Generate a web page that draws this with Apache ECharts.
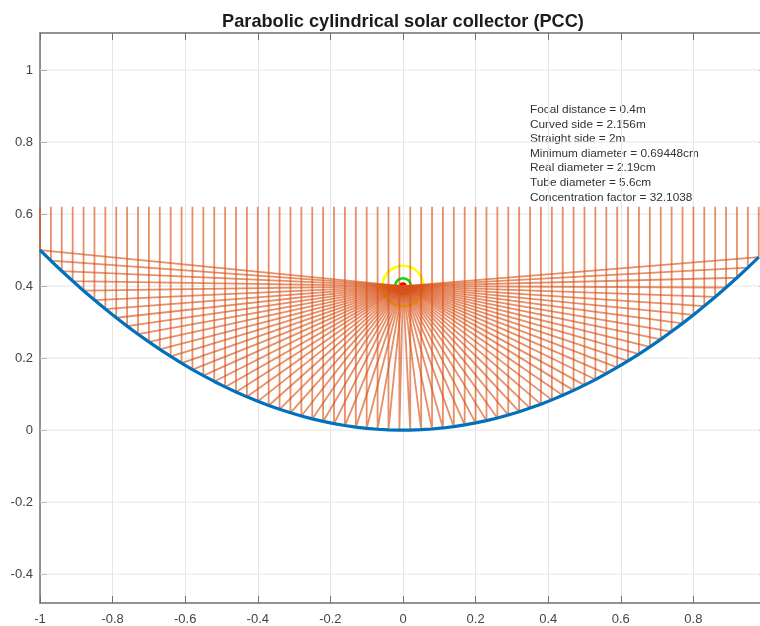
<!DOCTYPE html>
<html>
<head>
<meta charset="utf-8">
<style>html,body{margin:0;padding:0;background:#fff;overflow:hidden}#c{width:760px;height:626px}</style>
<script src="https://cdn.jsdelivr.net/npm/echarts@6/dist/echarts.min.js"></script>
</head>
<body>
<div id="c"></div>
<script>
const titleText = 'Parabolic cylindrical solar collector (PCC)';
const infoLines = [
  'Focal distance = 0.4m',
  'Curved side = 2.156m',
  'Straight side = 2m',
  'Minimum diameter = 0.69448cm',
  'Real diameter = 2.19cm',
  'Tube diameter = 5.6cm',
  'Concentration factor = 32.1038'
];
const yTicks = [-0.4, -0.2, 0, 0.2, 0.4, 0.6, 0.8, 1];
const rayX = [-1,-0.97,-0.94,-0.91,-0.88,-0.85,-0.82,-0.79,-0.76,-0.73,-0.70,-0.67,-0.64,-0.61,-0.58,-0.55,-0.52,-0.49,-0.46,-0.43,-0.40,-0.37,-0.34,-0.31,-0.28,-0.25,-0.22,-0.19,-0.16,-0.13,-0.10,-0.07,-0.04,-0.01,
  0.02,0.05,0.08,0.11,0.14,0.17,0.20,0.23,0.26,0.29,0.32,0.35,0.38,0.41,0.44,0.47,0.50,0.53,0.56,0.59,0.62,0.65,0.68,0.71,0.74,0.77,0.80,0.83,0.86,0.89,0.92,0.95,0.98];
const surfaceY = [0.5,0.47045,0.4418,0.41405,0.3872,0.36125,0.3362,0.31205,0.2888,0.26645,0.245,0.22445,0.2048,0.18605,0.1682,0.15125,0.1352,0.12005,0.1058,0.09245,0.08,0.06845,0.0578,0.04805,0.0392,0.03125,0.0242,0.01805,0.0128,0.00845,0.005,0.00245,0.0008,0.00005,
  0.0002,0.00125,0.0032,0.00605,0.0098,0.01445,0.02,0.02645,0.0338,0.04205,0.0512,0.06125,0.0722,0.08405,0.0968,0.11045,0.125,0.14045,0.1568,0.17405,0.1922,0.21125,0.2312,0.25205,0.2738,0.29645,0.32,0.34445,0.3698,0.39605,0.4232,0.45125,0.4802];
const rayTop = 0.62;
const focus = [0, 0.4];
const circleRadii = [0.056, 0.0219, 0.00694];
const circleColors = ['#FFFF00', '#00E000', '#FF0000'];

const xMin = -1, xMax = 1, xStep = 0.2;
const yMin = -0.48, yMax = 1.1028;

const font = '"Liberation Sans", Arial, sans-serif';
const axisCol = '#707070';
const gridCol = '#e6e6e6';

const series = [];
yTicks.forEach(function (v) {
  series.push({
    type: 'line', silent: true, animation: false, showSymbol: false, symbol: 'none',
    lineStyle: { color: gridCol, width: 1 },
    data: [[xMin, v], [xMax, v]]
  });
});
circleRadii.forEach(function (r, k) {
  series.push({
    type: 'custom',
    coordinateSystem: 'cartesian2d',
    silent: true,
    animation: false,
    clip: true,
    data: [[focus[0], focus[1], r]],
    renderItem: function (params, api) {
      const c = api.coord([api.value(0), api.value(1)]);
      const s = api.size([api.value(2), api.value(2)]);
      return {
        type: 'circle',
        shape: { cx: c[0], cy: c[1], r: s[0] },
        style: { fill: k === 2 ? circleColors[k] : 'none', stroke: circleColors[k], lineWidth: 2.5 }
      };
    }
  });
});
rayX.forEach(function (x, i) {
  series.push({
    type: 'line',
    silent: true,
    animation: false,
    showSymbol: false,
    symbol: 'none',
    lineStyle: { color: '#D95319', width: 1.8, opacity: 0.65 },
    data: [[x, rayTop], [x, surfaceY[i]], focus]
  });
});
series.push({
  type: 'line',
  silent: true,
  animation: false,
  showSymbol: false,
  symbol: 'none',
  smooth: false,
  lineStyle: { color: '#0072BD', width: 3.2 },
  data: rayX.map(function (x, i) { return [x, surfaceY[i]]; })
});

function fmt(v) { return String(Math.round(v * 10) / 10); }

const chart = echarts.init(document.getElementById('c'), null, { renderer: 'canvas' });
chart.setOption({
  backgroundColor: '#fff',
  animation: false,
  title: {
    text: titleText, left: 398, top: 8, textAlign: 'center',
    textStyle: { fontFamily: font, fontSize: 18.2, fontWeight: 'bold', color: '#1c1c1c' }
  },
  grid: { left: 40, width: 726, top: 33, height: 570, containLabel: false, outerBoundsMode: 'none' },
  xAxis: [{
    type: 'value', min: xMin, max: xMax, interval: xStep, position: 'bottom',
    axisLine: { show: true, onZero: false, lineStyle: { color: axisCol, width: 1.5 } },
    axisTick: { show: true, inside: true, length: 7, lineStyle: { color: axisCol } },
    axisLabel: { color: '#444', fontFamily: font, fontSize: 13, margin: 10, formatter: fmt, showMaxLabel: false },
    splitLine: { show: true, lineStyle: { color: gridCol, width: 1 } }
  }, {
    type: 'value', min: xMin, max: xMax, interval: xStep, position: 'top',
    axisLine: { show: true, onZero: false, lineStyle: { color: axisCol, width: 1.5 } },
    axisTick: { show: true, inside: true, length: 7, lineStyle: { color: axisCol } },
    axisLabel: { show: false }, splitLine: { show: false }
  }],
  yAxis: [{
    type: 'value', min: yMin, max: yMax, position: 'left',
    axisLine: { show: true, onZero: false, lineStyle: { color: axisCol, width: 1.5 } },
    axisTick: { show: true, inside: true, length: 7, customValues: yTicks, lineStyle: { color: axisCol } },
    axisLabel: { color: '#444', fontFamily: font, fontSize: 13, margin: 7, customValues: yTicks, formatter: fmt },
    splitLine: { show: false }
  }, {
    type: 'value', min: yMin, max: yMax, position: 'right',
    axisLine: { show: true, onZero: false, lineStyle: { color: axisCol, width: 1.5 } },
    axisTick: { show: true, inside: true, length: 7, customValues: yTicks, lineStyle: { color: axisCol } },
    axisLabel: { show: false }, splitLine: { show: false }
  }],
  graphic: [{
    type: 'text', left: 530, top: 102.5, silent: true,
    style: { text: infoLines.join('\n'), fontFamily: font, fontSize: 11.8, lineHeight: 14.6, fill: '#333', textAlign: 'left' }
  }],
  series: series
});
</script>
</body>
</html>
